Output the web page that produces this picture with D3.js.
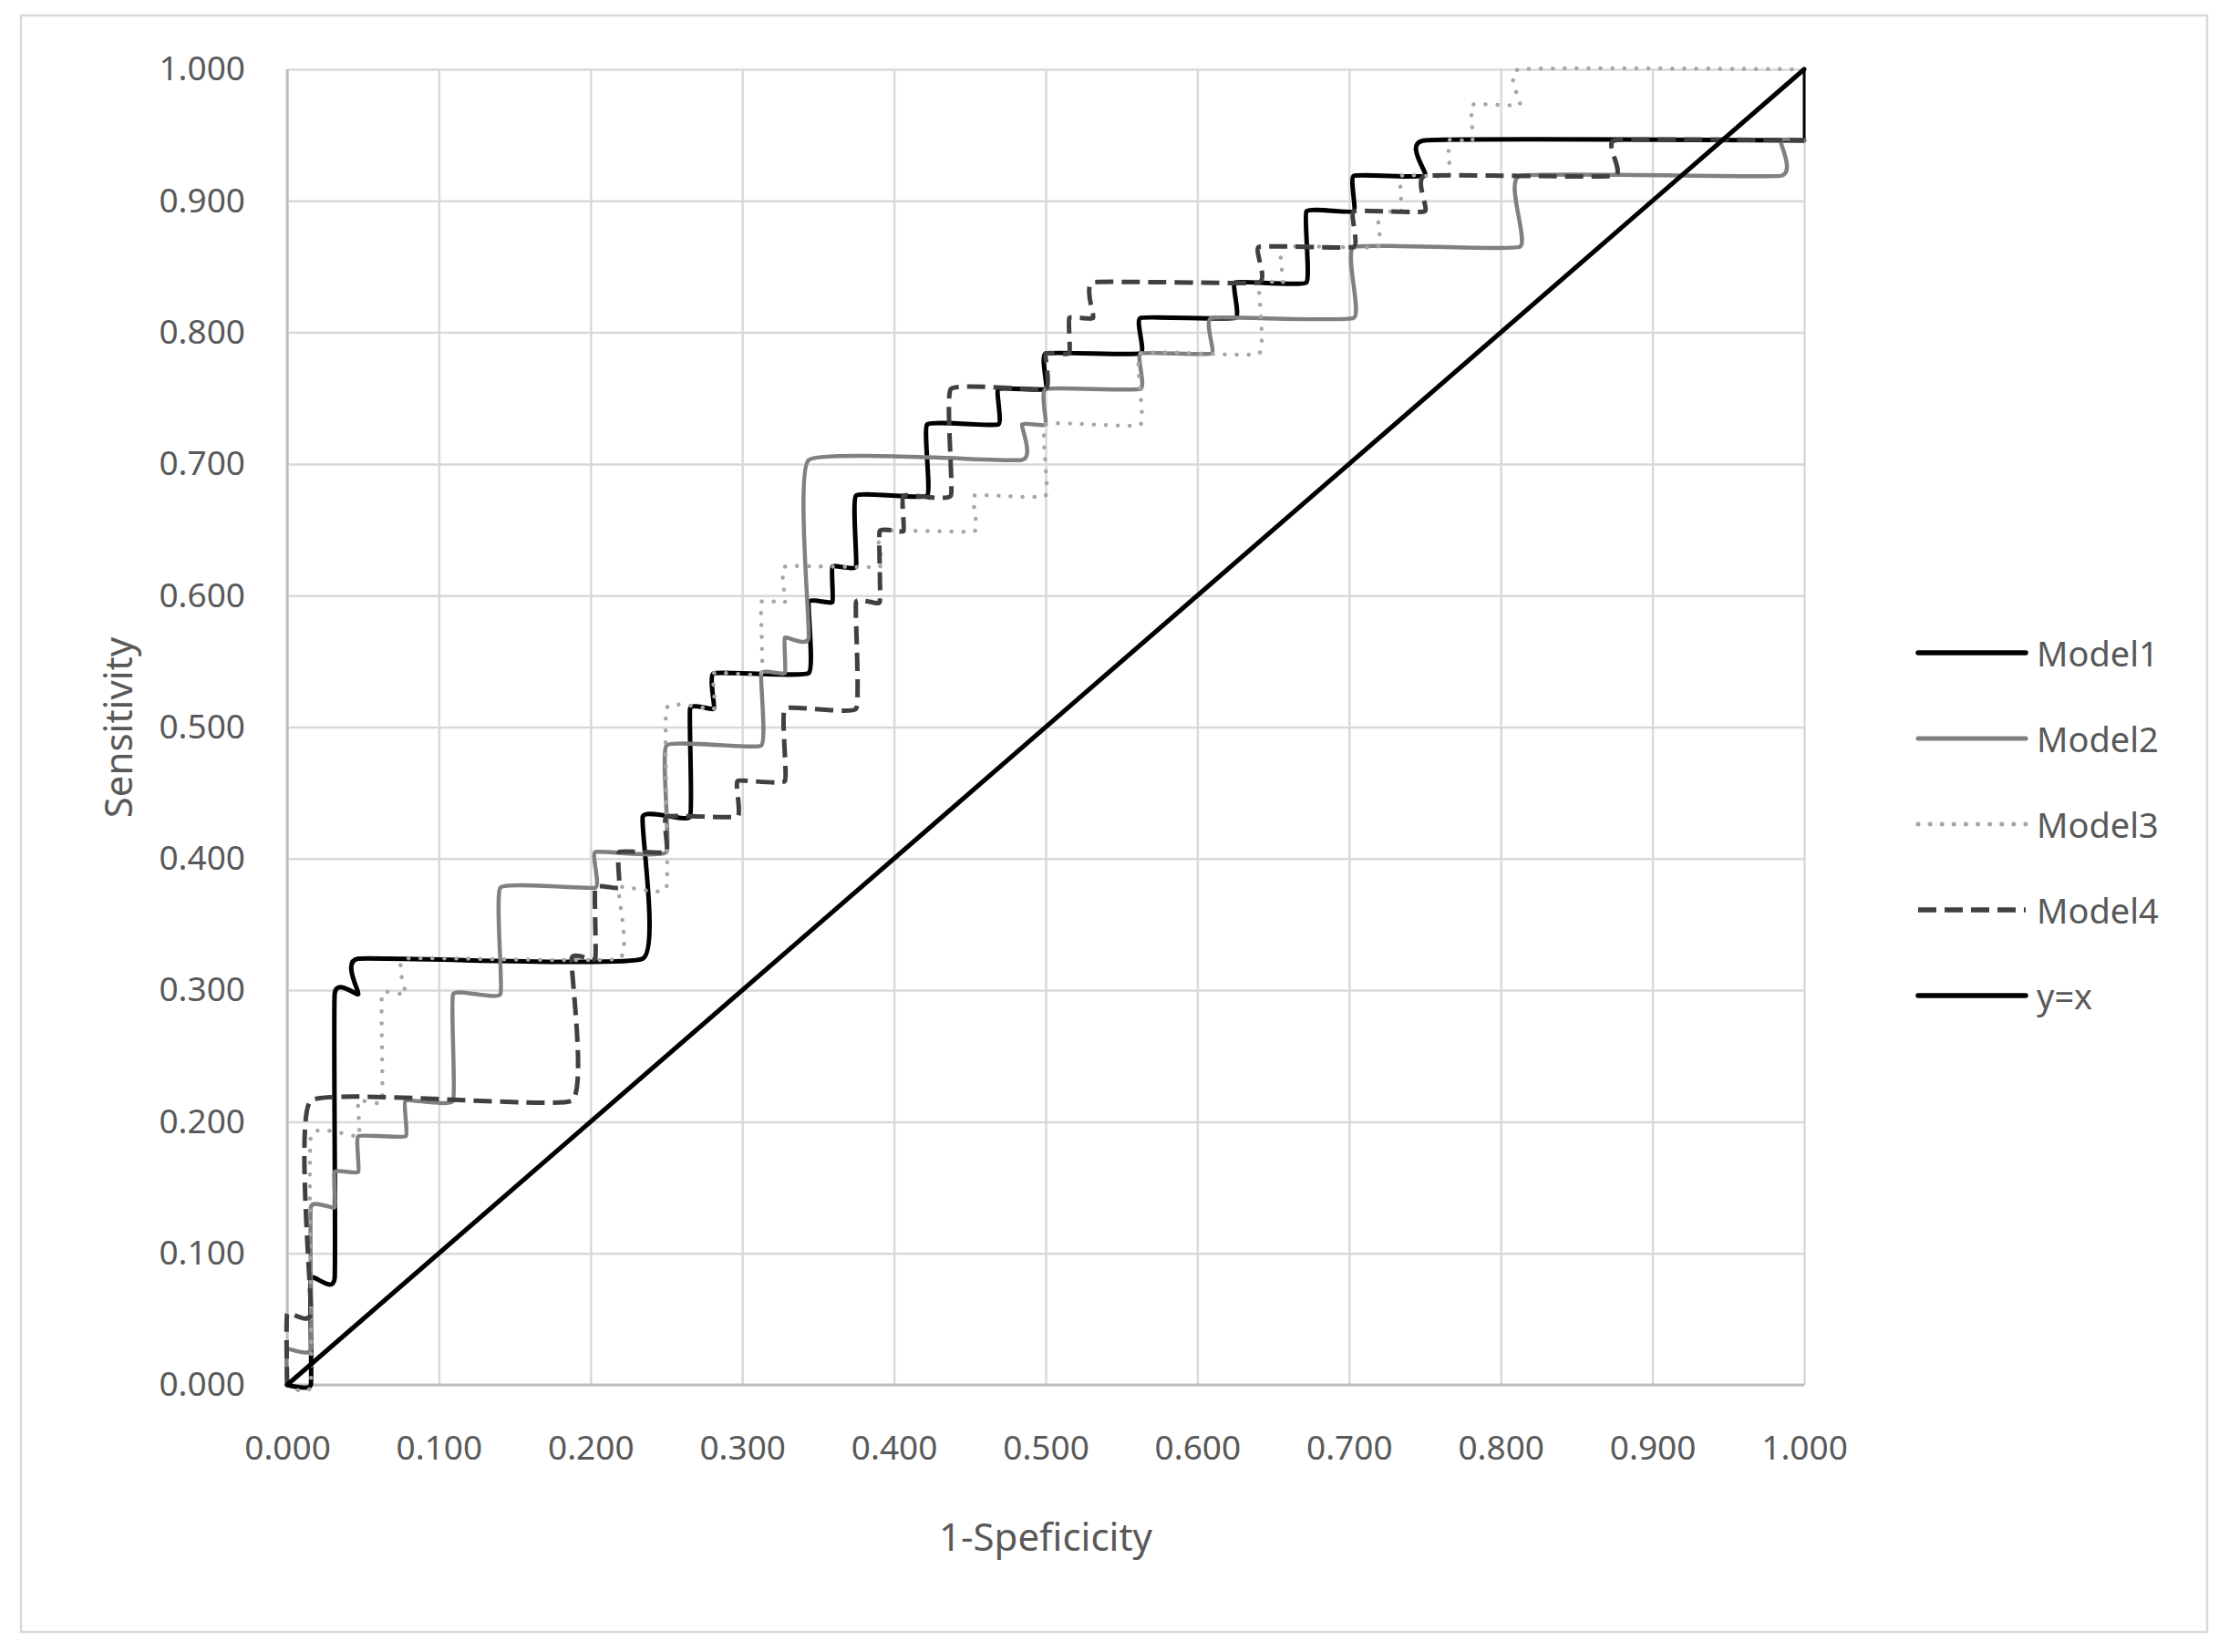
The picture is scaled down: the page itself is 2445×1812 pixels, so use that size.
<!DOCTYPE html>
<html>
<head>
<meta charset="utf-8">
<script src="https://cdn.jsdelivr.net/npm/d3@7"></script>
<style>
  html, body { margin: 0; padding: 0; background: #fff; }
  svg { display: block; }
  text { font-family: "Noto Sans", "Open Sans", sans-serif; fill: #595959; }
</style>
</head>
<body>
<svg id="chart" width="2445" height="1812"></svg>
<script>
// ---------------- data ----------------
const xTicks = [0, 0.1, 0.2, 0.3, 0.4, 0.5, 0.6, 0.7, 0.8, 0.9, 1.0];
const yTicks = [0, 0.1, 0.2, 0.3, 0.4, 0.5, 0.6, 0.7, 0.8, 0.9, 1.0];
const seriesNames = ["Model1", "Model2", "Model3", "Model4", "y=x"];
const xTitle = "1-Speficicity";
const yTitle = "Sensitivity";

const model1 = [[0,0],[0.0156,0],[0.0156,0.081],[0.0313,0.081],[0.0313,0.297],[0.0469,0.297],[0.0469,0.324],
  [0.2344,0.324],[0.2344,0.432],[0.2656,0.432],[0.2656,0.514],[0.2813,0.514],[0.2813,0.541],[0.3438,0.541],
  [0.3438,0.595],[0.3594,0.595],[0.3594,0.622],[0.375,0.622],[0.375,0.676],[0.4219,0.676],[0.4219,0.730],
  [0.4688,0.730],[0.4688,0.757],[0.500,0.757],[0.500,0.784],[0.5625,0.784],[0.5625,0.811],[0.625,0.811],
  [0.625,0.838],[0.6719,0.838],[0.6719,0.892],[0.7031,0.892],[0.7031,0.919],[0.750,0.919],[0.750,0.946],
  [1.0,0.946],[1.0,1.0]];

const model2 = [[0,0],[0,0.027],[0.0156,0.027],[0.0156,0.135],[0.0313,0.135],[0.0313,0.162],[0.0469,0.162],
  [0.0469,0.189],[0.0781,0.189],[0.0781,0.216],[0.1094,0.216],[0.1094,0.297],[0.1406,0.297],[0.1406,0.378],
  [0.2031,0.378],[0.2031,0.405],[0.250,0.405],[0.250,0.486],[0.3125,0.486],[0.3125,0.541],[0.3281,0.541],
  [0.3281,0.568],[0.3438,0.568],[0.3438,0.703],[0.4844,0.703],[0.4844,0.730],[0.500,0.730],[0.500,0.757],
  [0.5625,0.757],[0.5625,0.784],[0.6094,0.784],[0.6094,0.811],[0.7031,0.811],[0.7031,0.865],[0.8125,0.865],
  [0.8125,0.919],[0.9844,0.919],[0.9844,0.946],[1.0,0.946]];

const model3 = [[0,0],[0.0156,0],[0.0156,0.189],[0.0469,0.189],[0.0469,0.216],[0.0625,0.216],[0.0625,0.297],
  [0.0781,0.297],[0.0781,0.324],[0.2188,0.324],[0.2188,0.378],[0.250,0.378],[0.250,0.514],[0.2813,0.514],
  [0.2813,0.541],[0.3125,0.541],[0.3125,0.595],[0.3281,0.595],[0.3281,0.622],[0.3906,0.622],[0.3906,0.649],
  [0.4531,0.649],[0.4531,0.676],[0.500,0.676],[0.500,0.730],[0.5625,0.730],[0.5625,0.784],[0.6406,0.784],
  [0.6406,0.838],[0.6563,0.838],[0.6563,0.865],[0.7188,0.865],[0.7188,0.892],[0.7344,0.892],[0.7344,0.919],
  [0.7656,0.919],[0.7656,0.946],[0.7813,0.946],[0.7813,0.973],[0.8125,0.973],[0.8125,1.0],[1.0,1.0]];

const model4 = [[0,0],[0,0.054],[0.0156,0.054],[0.0156,0.216],[0.1875,0.216],[0.1875,0.324],[0.2031,0.324],
  [0.2031,0.378],[0.2188,0.378],[0.2188,0.405],[0.250,0.405],[0.250,0.432],[0.2969,0.432],[0.2969,0.459],
  [0.3281,0.459],[0.3281,0.514],[0.375,0.514],[0.375,0.595],[0.3906,0.595],[0.3906,0.649],[0.4063,0.649],
  [0.4063,0.676],[0.4375,0.676],[0.4375,0.757],[0.500,0.757],[0.500,0.784],[0.5156,0.784],[0.5156,0.811],
  [0.5313,0.811],[0.5313,0.838],[0.6406,0.838],[0.6406,0.865],[0.7031,0.865],[0.7031,0.892],[0.750,0.892],
  [0.750,0.919],[0.875,0.919],[0.875,0.946],[1.0,0.946]];

const diagonal = [[0,0],[1,1]];

// ---------------- layout ----------------
const svg = d3.select("#chart");
const plotLeft = 315, plotRight = 1979, plotTop = 76, plotBottom = 1519;
const x = d3.scaleLinear().domain([0, 1]).range([plotLeft, plotRight]);
const y = d3.scaleLinear().domain([0, 1]).range([plotBottom, plotTop]);
const fmt = d3.format(".3f");

// outer chart border
svg.append("rect").attr("x", 23).attr("y", 17).attr("width", 2398).attr("height", 1773)
  .attr("fill", "#fff").attr("stroke", "#d9d9d9").attr("stroke-width", 2.5);

// gridlines
svg.append("g").attr("transform", `translate(0,${plotBottom})`)
  .call(d3.axisBottom(x).tickValues(xTicks).tickSize(-(plotBottom - plotTop)).tickFormat(""))
  .call(g => g.select(".domain").remove())
  .call(g => g.selectAll("line").attr("stroke", "#d9d9d9").attr("stroke-width", 2.5));
svg.append("g").attr("transform", `translate(${plotLeft},0)`)
  .call(d3.axisLeft(y).tickValues(yTicks).tickSize(-(plotRight - plotLeft)).tickFormat(""))
  .call(g => g.select(".domain").remove())
  .call(g => g.selectAll("line").attr("stroke", "#d9d9d9").attr("stroke-width", 2.5));

// axis lines
svg.append("line").attr("x1", plotLeft).attr("x2", plotLeft).attr("y1", plotTop).attr("y2", plotBottom)
  .attr("stroke", "#bfbfbf").attr("stroke-width", 3);
svg.append("line").attr("x1", plotLeft).attr("x2", plotRight).attr("y1", plotBottom).attr("y2", plotBottom)
  .attr("stroke", "#bfbfbf").attr("stroke-width", 3);

// tick labels
const xAxis = svg.append("g").attr("transform", `translate(0,${plotBottom})`)
  .call(d3.axisBottom(x).tickValues(xTicks).tickSize(0).tickPadding(56).tickFormat(fmt));
xAxis.select(".domain").remove();
xAxis.selectAll("text").attr("font-size", 37).attr("fill", "#595959")
  .style("font-family", '"Noto Sans", sans-serif');

const yAxis = svg.append("g").attr("transform", `translate(${plotLeft},0)`)
  .call(d3.axisLeft(y).tickValues(yTicks).tickSize(0).tickPadding(46).tickFormat(fmt));
yAxis.select(".domain").remove();
yAxis.selectAll("text").attr("font-size", 37).attr("fill", "#595959")
  .style("font-family", '"Noto Sans", sans-serif');

// axis titles
svg.append("text").attr("x", 1147).attr("y", 1684).attr("text-anchor", "middle")
  .attr("dominant-baseline", "central").attr("font-size", 42).text(xTitle);
svg.append("text").attr("transform", "translate(128,798) rotate(-90)").attr("text-anchor", "middle")
  .attr("dominant-baseline", "central").attr("font-size", 42).text(yTitle);

// series
const styles = [
  {data: model1, color: "#000000", width: 5, dash: null, cap: "round"},
  {data: model2, color: "#808080", width: 4.5, dash: null, cap: "round"},
  {data: model3, color: "#a6a6a6", width: 4.5, dash: "0.1 13", cap: "round"},
  {data: model4, color: "#404040", width: 5, dash: "20 9", cap: "butt"},
  {data: diagonal, color: "#000000", width: 5, dash: null, cap: "round"}
];

const smooth = d3.line().x(d => x(d[0])).y(d => y(d[1])).curve(d3.curveCardinal.tension(0.65));
const straight = d3.line().x(d => x(d[0])).y(d => y(d[1]));

const plot = svg.append("g");
styles.forEach(s => {
  const d = s.data;
  // final vertical step onto the right edge is drawn straight (no bulge past x = 1)
  const lastVertical = d.length > 2 && d[d.length - 1][0] === d[d.length - 2][0];
  const body = lastVertical ? d.slice(0, -1) : d;
  plot.append("path").datum(body).attr("d", smooth)
    .attr("fill", "none").attr("stroke", s.color).attr("stroke-width", s.width)
    .attr("stroke-linecap", s.cap).attr("stroke-linejoin", "round")
    .attr("stroke-dasharray", s.dash);
  if (lastVertical) {
    plot.append("path").datum(d.slice(-2)).attr("d", straight)
      .attr("fill", "none").attr("stroke", s.color).attr("stroke-width", s.width * 0.6)
      .attr("stroke-linecap", "butt").attr("stroke-dasharray", s.dash);
  }
});

// legend
const legend = svg.append("g");
const legendY = d3.scalePoint().domain(seriesNames).range([716, 1092]);
seriesNames.forEach((name, i) => {
  const s = styles[i];
  const yy = legendY(name);
  legend.append("line").attr("x1", 2104).attr("x2", 2222).attr("y1", yy).attr("y2", yy)
    .attr("stroke", s.color).attr("stroke-width", s.width + 0.5)
    .attr("stroke-linecap", s.cap).attr("stroke-dasharray", s.dash);
  legend.append("text").attr("x", 2234).attr("y", yy).attr("dominant-baseline", "central")
    .attr("font-size", 38).text(name);
});
</script>
</body>
</html>
